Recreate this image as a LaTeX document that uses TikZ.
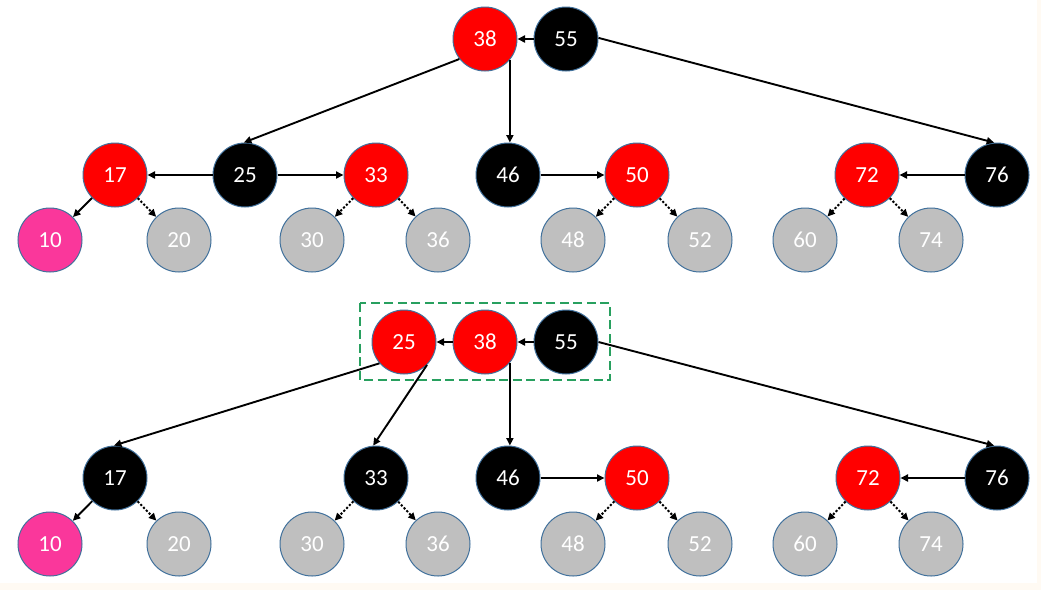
\documentclass[tikz,border=0pt]{standalone}
\usepackage{fontspec}
\setmainfont{Carlito}
\usetikzlibrary{arrows.meta}
\definecolor{nred}{RGB}{255,0,0}
\definecolor{npink}{RGB}{250,55,155}
\definecolor{ngray}{RGB}{191,191,191}
\definecolor{nedge}{RGB}{65,113,156}
\definecolor{boxgreen}{RGB}{40,160,95}
\definecolor{slideedge}{RGB}{255,250,243}
\begin{document}
\begin{tikzpicture}[x=1pt,y=-1pt,
  nd/.style={circle,minimum size=64pt,inner sep=0pt,draw=nedge,line width=1pt,text=white,font=\fontsize{23}{23}\selectfont},
  rednd/.style={nd,fill=nred},
  blknd/.style={nd,fill=black},
  leafnd/.style={nd,fill=ngray},
  pinknd/.style={nd,fill=npink},
  edge/.style={line width=1.9pt,-{Triangle[length=7.5pt,width=7pt]}},
  niledge/.style={line width=2pt,dash pattern=on 2.2pt off 1.8pt,-{Triangle[length=7.5pt,width=7pt]}},
  groupbox/.style={draw=boxgreen,line width=2.8pt,dash pattern=on 9pt off 4.5pt}
]
\fill[slideedge] (0,0) rectangle (1041,590);
\fill[white] (0,0) rectangle (1037,583);
\useasboundingbox (0,0) rectangle (1041,590);

% ---------- top tree ----------
\node[rednd]  (t38) at (485,39) {38};
\node[blknd]  (t55) at (566,39) {55};
\node[rednd]  (t17) at (115,175) {17};
\node[blknd]  (t25) at (245,175) {25};
\node[rednd]  (t33) at (376,175) {33};
\node[blknd]  (t46) at (508,175) {46};
\node[rednd]  (t50) at (637,175) {50};
\node[rednd]  (t72) at (867,175) {72};
\node[blknd]  (t76) at (997,175) {76};
\node[pinknd] (t10) at (50,240) {10};
\node[leafnd] (t20) at (179,240) {20};
\node[leafnd] (t30) at (312,240) {30};
\node[leafnd] (t36) at (438,240) {36};
\node[leafnd] (t48) at (573,240) {48};
\node[leafnd] (t52) at (700,240) {52};
\node[leafnd] (t60) at (805,240) {60};
\node[leafnd] (t74) at (931,240) {74};

\draw[edge] (t55) -- (t38);
\draw[edge] (t38.218) -- (t25.92);
\draw[edge] (t38.-40) -- (t38.-40 |- t46.north);
\draw[edge] (t55.2) -- (t76.95);
\draw[edge] (t25) -- (t17);
\draw[edge] (t25) -- (t33);
\draw[edge] (t46) -- (t50);
\draw[edge] (t76) -- (t72);
\draw[edge] (t17) -- (t10);
\draw[niledge] (t17) -- (t20);
\draw[niledge] (t33) -- (t30);
\draw[niledge] (t33) -- (t36);
\draw[niledge] (t50) -- (t48);
\draw[niledge] (t50) -- (t52);
\draw[niledge] (t72) -- (t60);
\draw[niledge] (t72) -- (t74);

% ---------- bottom tree ----------
\draw[groupbox] (360,303) rectangle (610,380);
\node[rednd]  (b25) at (404,342) {25};
\node[rednd]  (b38) at (485,342) {38};
\node[blknd]  (b55) at (566,342) {55};
\node[blknd]  (b17) at (115,478) {17};
\node[blknd]  (b33) at (376,478) {33};
\node[blknd]  (b46) at (508,478) {46};
\node[rednd]  (b50) at (637,478) {50};
\node[rednd]  (b72) at (868,478) {72};
\node[blknd]  (b76) at (997,478) {76};
\node[pinknd] (b10) at (50,544) {10};
\node[leafnd] (b20) at (179,544) {20};
\node[leafnd] (b30) at (312,544) {30};
\node[leafnd] (b36) at (438,544) {36};
\node[leafnd] (b48) at (573,544) {48};
\node[leafnd] (b52) at (700,544) {52};
\node[leafnd] (b60) at (805,544) {60};
\node[leafnd] (b74) at (931,544) {74};

\draw[edge] (b55) -- (b38);
\draw[edge] (b38) -- (b25);
\draw[edge] (b25.221) -- (b17.92);
\draw[edge] (b25.-45) -- (b33.95);
\draw[edge] (b38.-40) -- (b38.-40 |- b46.north);
\draw[edge] (b55.0) -- (b76.95);
\draw[edge] (b46) -- (b50);
\draw[edge] (b76) -- (b72);
\draw[edge] (b17) -- (b10);
\draw[niledge] (b17) -- (b20);
\draw[niledge] (b33) -- (b30);
\draw[niledge] (b33) -- (b36);
\draw[niledge] (b50) -- (b48);
\draw[niledge] (b50) -- (b52);
\draw[niledge] (b72) -- (b60);
\draw[niledge] (b72) -- (b74);
\end{tikzpicture}
\end{document}
